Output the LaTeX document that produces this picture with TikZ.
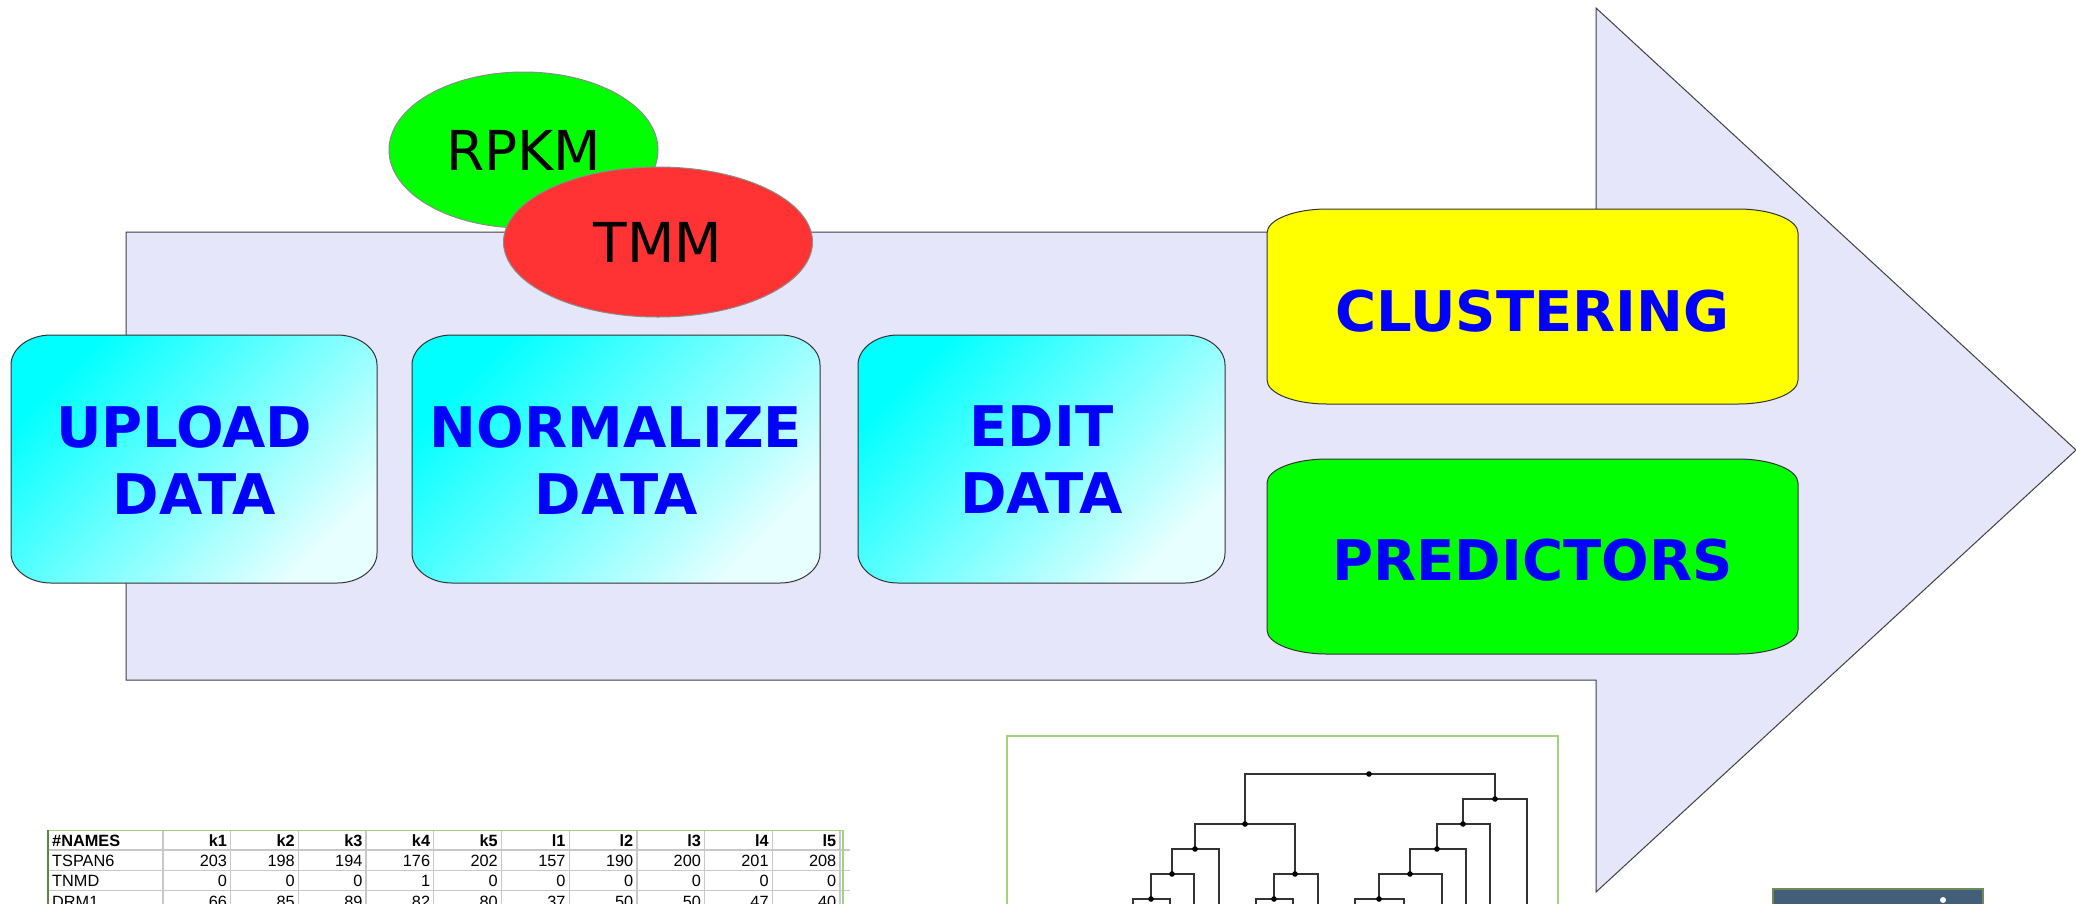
\documentclass[tikz,border=0pt]{standalone}
\usepackage{fontspec}
\usetikzlibrary{shapes.geometric}
\newfontfamily\dejavu{DejaVu Sans}
\newfontfamily\libsans{Liberation Sans}
\definecolor{lav}{RGB}{230,230,250}
\definecolor{cyanA}{RGB}{0,255,255}
\definecolor{cyanB}{RGB}{232,255,255}
\definecolor{txtblue}{RGB}{0,0,255}
\definecolor{lgreen}{RGB}{0,255,0}
\definecolor{yel}{RGB}{255,255,0}
\definecolor{tmmred}{RGB}{255,51,51}
\definecolor{gridgray}{RGB}{200,200,200}
\definecolor{framegreen}{RGB}{165,210,125}
\definecolor{darkframe}{RGB}{95,130,70}
\definecolor{slate}{RGB}{67,94,120}
\definecolor{slateframe}{RGB}{110,140,90}
\newcommand\myebox[7]{%
  \path[#7] (#1+#5,#2) -- (#3-#5,#2)
    arc[start angle=-90,end angle=0,x radius=#5,y radius=#6] -- (#3,#4-#6)
    arc[start angle=0,end angle=90,x radius=#5,y radius=#6] -- (#1+#5,#4)
    arc[start angle=90,end angle=180,x radius=#5,y radius=#6] -- (#1,#2+#6)
    arc[start angle=180,end angle=270,x radius=#5,y radius=#6] -- cycle;}
\begin{document}
\begin{tikzpicture}[x=1pt,y=-1pt,
  arrowbody/.style={fill=lav, draw=black!75, line width=1pt},
  ellnode/.style={ellipse, draw=black!45, line width=1pt, inner sep=0pt,
    font=\dejavu\fontsize{55}{66}\selectfont, text=black},
  cyanbox/.style={draw=black!80, line width=1pt, top color=cyanA, bottom color=cyanB, shading angle=45},
  flatbox/.style={draw=black!80, line width=1pt},
  boxtext/.style={font=\dejavu\bfseries\fontsize{56}{67}\selectfont, text=txtblue, align=center, inner sep=0pt},
  cellnum/.style={anchor=base east, inner sep=0pt, font=\libsans\fontsize{16.3}{18}\selectfont},
  cellname/.style={anchor=base west, inner sep=0pt, font=\libsans\fontsize{16.3}{18}\selectfont},
  headfont/.style={font=\libsans\bfseries\fontsize{16.3}{18}\selectfont},
  gridline/.style={draw=gridgray, line width=1.3pt},
  dendro/.style={draw=black!80, line width=2.2pt},
  dnode/.style={fill=black}
]
\useasboundingbox (0,0) rectangle (2076,903);
\clip (0,0) rectangle (2076,903);
\fill[white] (0,0) rectangle (2076,903);

% big arrow
\path[arrowbody] (126,232) -- (1596,232) -- (1596,8) -- (2076,450) -- (1596,892) -- (1596,680) -- (126,680) -- cycle;

% normalization ellipses
\node[ellnode, fill=lgreen, minimum width=269pt, minimum height=156pt] (rpkm) at (523.5,150) {RPKM};
\node[ellnode, fill=tmmred, minimum width=309pt, minimum height=150pt] (tmm) at (658,242) {TMM};

% process boxes
\myebox{11}{335}{377}{583}{40}{30}{cyanbox}
\myebox{412}{335}{820}{583}{40}{30}{cyanbox}
\myebox{858}{335}{1225}{583}{40}{30}{cyanbox}
\node[boxtext] (upload) at (194,460) {UPLOAD\kern0.35em\\DATA};
\node[boxtext] (normalize) at (616,460) {NORMALIZE\\DATA};
\node[boxtext] (edit) at (1041.5,460) {EDIT\\DATA};

\myebox{1267}{209}{1798}{404}{60}{24}{flatbox, fill=yel}
\myebox{1267}{459}{1798}{654}{60}{24}{flatbox, fill=lgreen}
\node[boxtext] (clustering) at (1532.5,311) {CLUSTERING};
\node[boxtext] (predictors) at (1532.5,560) {PREDICTORS};

% data table
\foreach \yy in {850,870.5,890.7} \draw[gridline] (48,\yy) -- (850,\yy);
\draw[gridline] (163,830.7) -- (163,915);
\foreach \i in {2,...,10} \draw[gridline] ({163+67.7*(\i-1)},830.7) -- ({163+67.7*(\i-1)},915);
\draw[gridline] (840,830.7) -- (840,915);
\draw[framegreen, line width=1.3pt] (48,830.7) -- (843,830.7) -- (843,915);
\draw[darkframe, line width=1.6pt] (48,830) -- (48,915);
\node[cellname, headfont] (h0) at (52,846) {\#NAMES};
\foreach \v [count=\i] in {k1,k2,k3,k4,k5,l1,l2,l3,l4,l5}
  \node[cellnum, headfont] (h\i) at ({163+67.7*\i-3.5},846) {\v};
\node[cellname] (a0) at (52,866.5) {TSPAN6};
\foreach \v [count=\i] in {203,198,194,176,202,157,190,200,201,208}
  \node[cellnum] (a\i) at ({163+67.7*\i-3.5},866.5) {\v};
\node[cellname] (b0) at (52,886.7) {TNMD};
\foreach \v [count=\i] in {0,0,0,1,0,0,0,0,0,0}
  \node[cellnum] (b\i) at ({163+67.7*\i-3.5},886.7) {\v};
\node[cellname] (c0) at (52,907) {DRM1};
\foreach \v [count=\i] in {66,85,89,82,80,37,50,50,47,40}
  \node[cellnum] (c\i) at ({163+67.7*\i-3.5},907) {\v};

% dendrogram
\draw[framegreen, line width=1.3pt] (1007,736) rectangle (1558,915);
\coordinate (root) at (1369,774);
\coordinate (R1) at (1495,799);
\coordinate (R2) at (1463,824);
\coordinate (R3) at (1437,849);
\coordinate (R4) at (1410,874);
\coordinate (R5) at (1379,899);
\coordinate (L1) at (1245,824);
\coordinate (L2) at (1195,849);
\coordinate (L3) at (1172,874);
\coordinate (L4) at (1151,899);
\coordinate (L5) at (1295,874);
\coordinate (L6) at (1274,899);
\coordinate (f1) at (1133,915);
\coordinate (f2) at (1170,915);
\coordinate (f3) at (1194,915);
\coordinate (f4) at (1219,915);
\coordinate (f5) at (1256,915);
\coordinate (f6) at (1293,915);
\coordinate (f7) at (1318,915);
\coordinate (f8) at (1355,915);
\coordinate (f9) at (1404,915);
\coordinate (f10) at (1442,915);
\coordinate (f11) at (1466,915);
\coordinate (f12) at (1490,915);
\coordinate (f13) at (1527,915);
\foreach \p/\l/\r in {root/L1/R1, L1/L2/L5, L2/L3/f4, L3/L4/f3, L4/f1/f2, L5/L6/f7, L6/f5/f6,
  R1/R2/f13, R2/R3/f12, R3/R4/f11, R4/R5/f10, R5/f8/f9}
  \draw[dendro] (\l) |- (\p) -| (\r);
\foreach \p in {root,R1,R2,R3,R4,R5,L1,L2,L3,L4,L5,L6}
  \fill[dnode] (\p) circle (2.8);

% corner of a further picture
\draw[fill=slate, draw=slateframe, line width=1.2pt] (1773,889) rectangle (1983,915);
\fill[white] (1943,900) circle (3);
\end{tikzpicture}
\end{document}
